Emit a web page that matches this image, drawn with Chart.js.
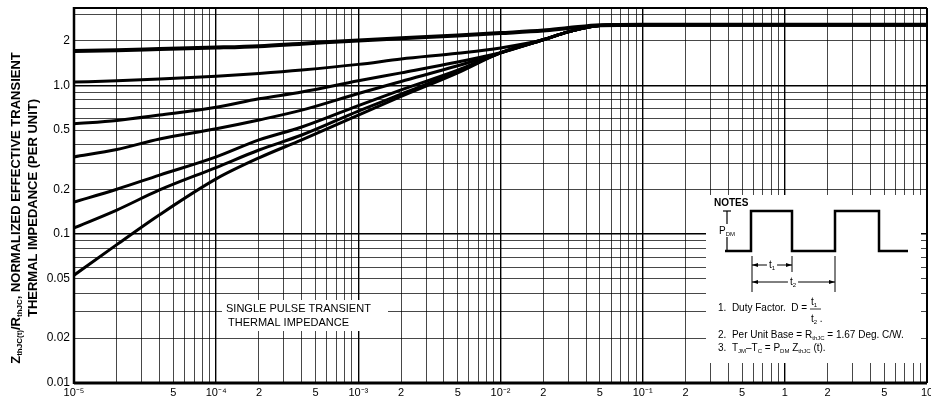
<!DOCTYPE html>
<html lang="en">
<head>
    <meta charset="UTF-8">
    <title>Transient Thermal Impedance</title>
    <script src="https://cdn.jsdelivr.net/npm/chart.js"></script>
    <style>
        html, body { margin: 0; padding: 0; background: #fff; }
    </style>
</head>
<body>

<canvas id="grafico" width="931" height="404"></canvas>

<script>
    // tempo (s) - eixo x
    const tempos = [1e-5, 2e-5, 4e-5, 1e-4, 2e-4, 4e-4, 1e-3, 2e-3, 5e-3, 1e-2, 2e-2, 3e-2, 5e-2, 0.1, 1, 10];

    // curvas por duty factor
    const d05 = [1.70, 1.72, 1.75, 1.79, 1.83, 1.90, 2.00, 2.07, 2.16, 2.24, 2.33, 2.42, 2.53, 2.55, 2.55, 2.55];
    const d02 = [1.05, 1.07, 1.10, 1.15, 1.20, 1.265, 1.38, 1.50, 1.64, 1.78, 2.02, 2.28, 2.52, 2.55, 2.55, 2.55];
    const d01 = [0.55, 0.58, 0.63, 0.71, 0.81, 0.90, 1.07, 1.21, 1.43, 1.65, 2.02, 2.28, 2.52, 2.55, 2.55, 2.55];
    const d005 = [0.33, 0.37, 0.435, 0.51, 0.584, 0.68, 0.88, 1.06, 1.35, 1.65, 2.02, 2.28, 2.52, 2.55, 2.55, 2.55];
    const d002 = [0.164, 0.20, 0.249, 0.33, 0.429, 0.524, 0.73, 0.93, 1.26, 1.65, 2.02, 2.28, 2.52, 2.55, 2.55, 2.55];
    const d001 = [0.110, 0.145, 0.198, 0.28, 0.367, 0.463, 0.67, 0.87, 1.24, 1.65, 2.02, 2.28, 2.52, 2.55, 2.55, 2.55];
    const pulsoUnico = [0.053, 0.085, 0.135, 0.235, 0.325, 0.43, 0.63, 0.84, 1.21, 1.65, 2.02, 2.28, 2.52, 2.55, 2.55, 2.55];

    // rotulos dos eixos
    const xRotulosValores = [1e-5, 5e-5, 1e-4, 2e-4, 5e-4, 1e-3, 2e-3, 5e-3, 1e-2, 2e-2, 5e-2, 0.1, 0.2, 0.5, 1, 2, 5, 10];
    const xRotulos = ['10⁻⁵', '5', '10⁻⁴', '2', '5', '10⁻³', '2', '5', '10⁻²', '2', '5', '10⁻¹', '2', '5', '1', '2', '5', '10'];
    const yRotulosValores = [0.01, 0.02, 0.05, 0.1, 0.2, 0.5, 1, 2];
    const yRotulos = ['0.01', '0.02', '0.05', '0.1', '0.2', '0.5', '1.0', '2'];

    const FONTE = '"Liberation Sans", Arial, Helvetica, sans-serif';
    Chart.defaults.font.family = FONTE;
    Chart.defaults.color = '#000';

    function igual(a, b) {
        return Math.abs(a - b) / b < 1e-6;
    }

    function rotulo(valor, valores, textos) {
        for (let i = 0; i < valores.length; i++) {
            if (igual(valor, valores[i])) return textos[i];
        }
        return '';
    }

    // linhas de grade tipo papel log: 1..9 por decada
    function ticksLog(menor, maior, limite) {
        let lista = [];
        for (let n = menor; n <= maior; n++) {
            for (let k = 1; k <= 9; k++) {
                let v = Number((k * Math.pow(10, n)).toPrecision(3));
                if (v <= limite) lista.push({ value: v });
            }
        }
        return lista;
    }

    function ehDecada(v) {
        let l = Math.log10(v);
        return Math.abs(l - Math.round(l)) < 1e-6;
    }

    function serie(valores) {
        return tempos.map(function (t, i) { return { x: t, y: valores[i] }; });
    }

    // texto com subscrito: partes = [[texto, 'n' | 's']]
    function larguraRica(ctx, partes, tam, peso) {
        let w = 0;
        partes.forEach(function (p) {
            let t = p[1] == 's' ? Math.round(tam * 0.62) : tam;
            ctx.font = peso + ' ' + t + 'px ' + FONTE;
            w += ctx.measureText(p[0]).width;
        });
        return w;
    }

    function textoRico(ctx, partes, x, y, tam, peso) {
        ctx.textBaseline = 'alphabetic';
        ctx.textAlign = 'left';
        partes.forEach(function (p) {
            let sub = p[1] == 's';
            let t = sub ? Math.round(tam * 0.62) : tam;
            ctx.font = peso + ' ' + t + 'px ' + FONTE;
            ctx.fillText(p[0], x, y + (sub ? 2 : 0));
            x += ctx.measureText(p[0]).width;
        });
        return x;
    }

    function linha(ctx, x1, y1, x2, y2, w) {
        ctx.lineWidth = w;
        ctx.beginPath();
        ctx.moveTo(x1, y1);
        ctx.lineTo(x2, y2);
        ctx.stroke();
    }

    function seta(ctx, x1, x2, y, texto, meio) {
        ctx.fillStyle = '#000';
        linha(ctx, x1, y, x2, y, 1);
        ctx.beginPath();
        ctx.moveTo(x1, y); ctx.lineTo(x1 + 6, y - 2); ctx.lineTo(x1 + 6, y + 2); ctx.closePath(); ctx.fill();
        ctx.beginPath();
        ctx.moveTo(x2, y); ctx.lineTo(x2 - 6, y - 2); ctx.lineTo(x2 - 6, y + 2); ctx.closePath(); ctx.fill();
        let w = larguraRica(ctx, texto, 10, 'normal');
        ctx.fillStyle = '#fff';
        ctx.fillRect(meio - w / 2 - 2, y - 6, w + 4, 12);
        ctx.fillStyle = '#000';
        textoRico(ctx, texto, meio - w / 2, y + 3, 10, 'normal');
    }

    const quadros = {
        id: 'quadros',
        beforeDatasetsDraw(chart) {
            const ctx = chart.ctx;
            ctx.save();
            ctx.fillStyle = '#fff';
            ctx.fillRect(706, 195, 215, 168);
            ctx.fillRect(222, 300, 166, 31);
            ctx.restore();
        },
        afterDraw(chart) {
            const ctx = chart.ctx;
            const a = chart.chartArea;
            ctx.save();
            ctx.strokeStyle = '#000';
            ctx.fillStyle = '#000';

            // moldura
            linha(ctx, a.left, a.top - 1, a.left, a.bottom + 1, 2.5);
            linha(ctx, a.left, a.bottom, a.right, a.bottom, 3);
            linha(ctx, a.left, a.top, a.right, a.top, 2);
            linha(ctx, a.right, a.top, a.right, a.bottom, 2);

            // titulo do eixo y
            ctx.save();
            ctx.translate(15, 208);
            ctx.rotate(-Math.PI / 2);
            let l1 = [['Z', 'n'], ['thJC(t)', 's'], ['/R', 'n'], ['thJC', 's'], [', NORMALIZED EFFECTIVE TRANSIENT', 'n']];
            let l2 = [['THERMAL IMPEDANCE (PER UNIT)', 'n']];
            let w1 = larguraRica(ctx, l1, 13, 'bold');
            textoRico(ctx, l1, -w1 / 2, 5, 13, 'bold');
            let w2 = larguraRica(ctx, l2, 13, 'bold');
            textoRico(ctx, l2, -w2 / 2, 22, 13, 'bold');
            ctx.restore();

            // legenda do pulso unico
            ctx.font = '11px ' + FONTE;
            ctx.textAlign = 'left';
            ctx.textBaseline = 'middle';
            ctx.fillText('SINGLE PULSE TRANSIENT', 226, 309);
            ctx.fillText('THERMAL IMPEDANCE', 228, 323);

            // notas
            ctx.font = 'bold 10px ' + FONTE;
            ctx.fillText('NOTES', 714, 203);

            ctx.lineJoin = 'miter';
            ctx.lineWidth = 2.5;
            ctx.beginPath();
            ctx.moveTo(725, 251);
            ctx.lineTo(751, 251); ctx.lineTo(751, 211); ctx.lineTo(792, 211); ctx.lineTo(792, 251);
            ctx.lineTo(835, 251); ctx.lineTo(835, 211); ctx.lineTo(879, 211); ctx.lineTo(879, 251);
            ctx.lineTo(908, 251);
            ctx.stroke();

            linha(ctx, 727, 211, 727, 250, 1.2);
            linha(ctx, 723, 211, 731, 211, 1.2);
            let pdm = [['P', 'n'], ['DM', 's']];
            let wp = larguraRica(ctx, pdm, 10, 'normal');
            ctx.fillStyle = '#fff';
            ctx.fillRect(718, 224, wp + 3, 13);
            ctx.fillStyle = '#000';
            textoRico(ctx, pdm, 719, 234, 10, 'normal');

            linha(ctx, 752, 256, 752, 292, 1);
            linha(ctx, 792, 256, 792, 272, 1);
            linha(ctx, 835, 256, 835, 292, 1);
            seta(ctx, 752, 792, 265, [['t', 'n'], ['1', 's']], 772);
            seta(ctx, 752, 835, 282, [['t', 'n'], ['2', 's']], 793);

            ctx.fillStyle = '#000';
            let x = textoRico(ctx, [['1.  Duty Factor.  D = ', 'n']], 718, 311, 10, 'normal');
            textoRico(ctx, [['t', 'n'], ['1', 's']], x + 1, 305, 10, 'normal');
            linha(ctx, x, 309, x + 11, 309, 0.8);
            textoRico(ctx, [['t', 'n'], ['2', 's'], [' .', 'n']], x + 1, 322, 10, 'normal');

            textoRico(ctx, [['2.  Per Unit Base = R', 'n'], ['thJC', 's'], [' = 1.67 Deg. C/W.', 'n']], 718, 338, 10, 'normal');
            textoRico(ctx, [['3.  T', 'n'], ['JM', 's'], ['\u2013T', 'n'], ['C', 's'], [' = P', 'n'], ['DM', 's'], [' Z', 'n'], ['thJC', 's'], [' (t).', 'n']], 718, 351, 10, 'normal');

            ctx.restore();
        }
    };

    const estiloLinha = {
        borderColor: '#000',
        backgroundColor: '#000',
        borderWidth: 3,
        pointRadius: 0,
        showLine: true,
        fill: false,
        cubicInterpolationMode: 'monotone',
        borderCapStyle: 'butt',
        borderJoinStyle: 'round'
    };

    const dados = {
        datasets: [
            Object.assign({}, estiloLinha, { label: 'D = 0.5', data: serie(d05), borderWidth: 4 }),
            Object.assign({}, estiloLinha, { label: 'D = 0.2', data: serie(d02) }),
            Object.assign({}, estiloLinha, { label: 'D = 0.1', data: serie(d01) }),
            Object.assign({}, estiloLinha, { label: 'D = 0.05', data: serie(d005) }),
            Object.assign({}, estiloLinha, { label: 'D = 0.02', data: serie(d002) }),
            Object.assign({}, estiloLinha, { label: 'D = 0.01', data: serie(d001) }),
            Object.assign({}, estiloLinha, { label: 'Single pulse', data: serie(pulsoUnico) })
        ]
    };

    const config = {
        type: 'scatter',
        data: dados,
        plugins: [quadros],
        options: {
            responsive: false,
            animation: false,
            devicePixelRatio: 1,
            layout: { padding: { top: 8, right: 0, left: 0, bottom: 0 } },
            plugins: {
                legend: { display: false },
                tooltip: { enabled: false }
            },
            scales: {
                x: {
                    type: 'logarithmic',
                    min: 1e-5,
                    max: 10,
                    afterBuildTicks: function (scale) {
                        scale.ticks = ticksLog(-5, 1, 10);
                    },
                    afterFit: function (scale) {
                        scale.height = 21;
                        scale.paddingLeft = 0;
                        scale.paddingRight = 4;
                    },
                    border: { display: false },
                    grid: {
                        drawTicks: false,
                        color: function (c) { return ehDecada(c.tick.value) ? '#000' : 'rgba(0,0,0,0.72)'; },
                        lineWidth: function (c) { return ehDecada(c.tick.value) ? 1.4 : 1; }
                    },
                    ticks: {
                        autoSkip: false,
                        maxRotation: 0,
                        padding: 3,
                        font: { size: 11 },
                        color: '#000',
                        callback: function (v) { return rotulo(v, xRotulosValores, xRotulos); }
                    }
                },
                y: {
                    type: 'logarithmic',
                    min: 0.01,
                    max: 3.3,
                    afterBuildTicks: function (scale) {
                        scale.ticks = ticksLog(-2, 0, 3.3);
                    },
                    afterFit: function (scale) {
                        scale.width = 74;
                        scale.paddingTop = 0;
                        scale.paddingBottom = 0;
                    },
                    border: { display: false },
                    grid: {
                        drawTicks: false,
                        color: function (c) { return ehDecada(c.tick.value) ? '#000' : 'rgba(0,0,0,0.72)'; },
                        lineWidth: function (c) { return ehDecada(c.tick.value) ? 1.4 : 1; }
                    },
                    ticks: {
                        autoSkip: false,
                        padding: 4,
                        font: { size: 12 },
                        color: '#000',
                        callback: function (v) { return rotulo(v, yRotulosValores, yRotulos); }
                    }
                }
            }
        }
    };

    let grafico = new Chart(document.getElementById('grafico'), config);
</script>

</body>
</html>
